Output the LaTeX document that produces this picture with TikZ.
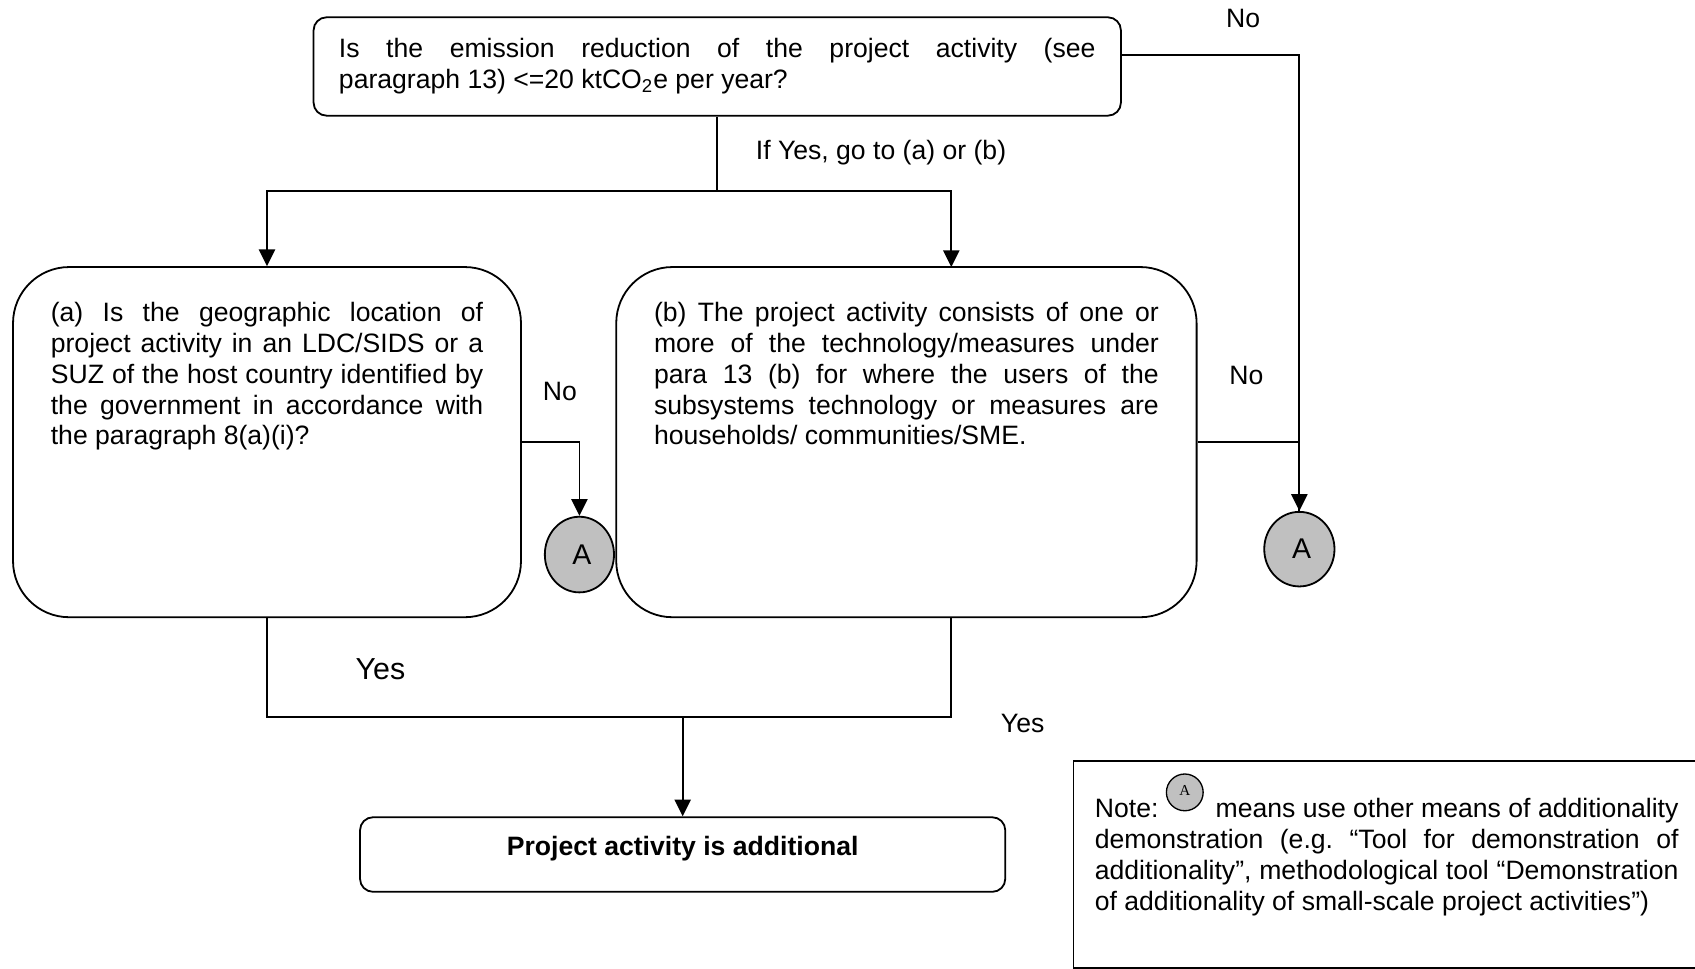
\documentclass[tikz,border=0pt]{standalone}
\usepackage{fontspec}
\setmainfont{Liberation Sans}
\newfontfamily\serifA{Liberation Serif}
\usetikzlibrary{arrows.meta,shapes.geometric}
\definecolor{agray}{RGB}{192,192,192}
\frenchspacing
\hyphenpenalty=10000
\tolerance=9999

\begin{document}
\begin{tikzpicture}[x=0.02cm,y=-0.02cm,line width=0.95pt,
  arr/.style={-{Triangle[length=0.31cm,width=0.3cm]}},
  qbox/.style={draw,rounded corners=1.04cm,inner sep=0pt},
  fbox/.style={draw,rounded corners=0.24cm,inner sep=0pt},
  qtext/.style={text width=#1,align=justify,inner sep=0pt,anchor=north},
  abox/.style={draw,ellipse,fill=agray,inner sep=0pt,font=\fontsize{15}{18}\selectfont}]
  \tikzstyle{every node}=[font=\fontsize{14}{16.2}\selectfont]
  \useasboundingbox (0,0) rectangle (1568,896);

  %top question:
  \node[fbox,minimum width=14.94cm,minimum height=1.82cm,text width=14cm,align=justify]
    (top) at (663.5,61.5) {Is the emission reduction of the project activity (see\linebreak
    paragraph 13) <=20 ktCO\textsubscript{2}e per year?};
  \node (noTop) at (1150,17) {No};
  \node (yesGo) at (815,141) {If Yes, go to (a) or (b)};

  %question (a) and (b):
  \node[qbox,minimum width=9.4cm,minimum height=6.48cm] (boxa) at (247,409) {};
  \node[qtext=8cm] (atext) at (247,279) {(a) Is the geographic location of\linebreak
    project activity in an LDC/SIDS or a\linebreak
    SUZ of the host country identified by\linebreak
    the government in accordance with\linebreak
    the paragraph 8(a)(i)?};
  \node[qbox,minimum width=10.74cm,minimum height=6.48cm] (boxb) at (838.5,409) {};
  \node[qtext=9.34cm] (btext) at (838.5,279) {(b) The project activity consists of one or\linebreak
    more of the technology/measures under\linebreak
    para 13 (b) for where the users of the\linebreak
    subsystems technology or measures are\linebreak
    households/ communities/SME.};

  %connectors A:
  \node[abox,minimum width=1.28cm,minimum height=1.4cm] (circA) at (536,513) {\,A};
  \node[abox,minimum width=1.3cm,minimum height=1.38cm] (circB) at (1202,508) {\,A};
  \node (noA) at (518,362) {No};
  \node (noB) at (1153,347) {No};

  %result:
  \node[fbox,minimum width=11.94cm,minimum height=1.38cm,
    font=\fontsize{14}{16.2}\selectfont\bfseries] (final) at (631.5,790.5)
    {\raisebox{0.11cm}[\height][\depth]{Project activity is additional}};
  \node[font=\fontsize{16}{19}\selectfont] (yesL) at (352,619) {Yes};
  \node (yesR) at (946,669) {Yes};

  %note:
  \draw (1568,704) -- (993,704) -- (993,895.4) -- (1568,895.4);
  \node[qtext=10.8cm,anchor=north west] (note) at (1012,738) {Note:\hspace{1.06cm}means use other means of additionality\linebreak
    demonstration (e.g. “Tool for demonstration of\linebreak
    additionality”, methodological tool “Demonstration\linebreak
    of additionality of small-scale project activities”)};
  \node[draw,line width=0.7pt,circle,fill=agray,minimum size=0.68cm,inner sep=0pt,
    font=\serifA\fontsize{8}{9}\selectfont] (circN) at (1096,733) {\raisebox{0.08cm}{A}};

  %arrows
  \coordinate (split) at (663.5,177);
  \coordinate (bin) at (880,247);
  \draw (top.south) -- (split);
  \draw[arr] (split) -| (boxa.north);
  \draw[arr] (split) -| (bin);

  \coordinate (nturn) at (1202,51);
  \draw[arr] (top.east |- nturn) -- (nturn) -- (circB.north);
  \draw (boxb.east) -| (circB.north);
  \draw[arr] (boxa.east) -| (circA.north);

  \coordinate (bout) at (880,571);
  \coordinate (merge) at (631.5,663);
  \draw (boxa.south) |- (merge) -| (bout);
  \draw[arr] (merge) -- (final.north);
\end{tikzpicture}
\end{document}
